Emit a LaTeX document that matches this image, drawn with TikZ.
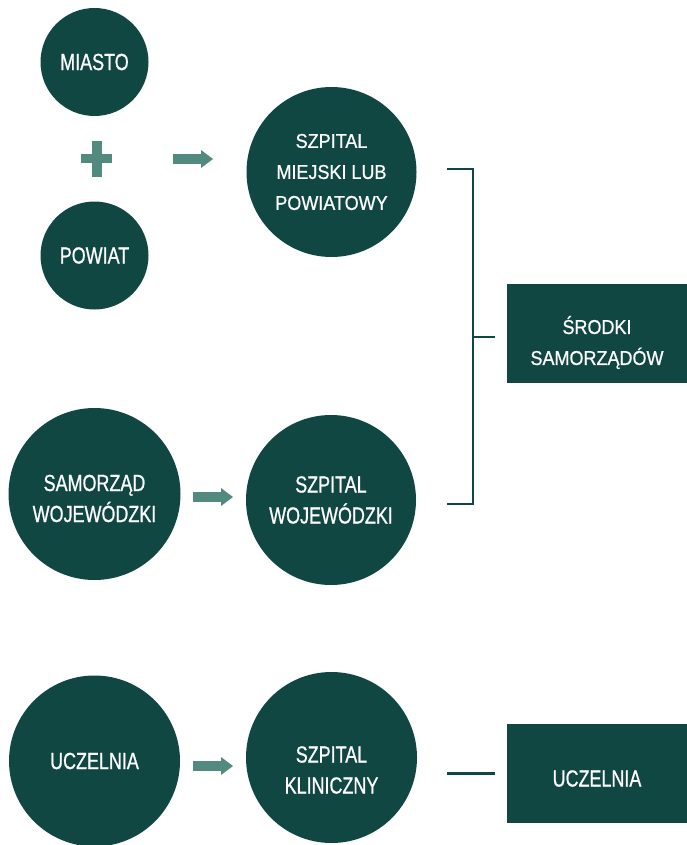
\documentclass[tikz,border=0pt]{standalone}
\usepackage{fontspec}
\newfontfamily\tallfont[FakeStretch=0.77, FakeBold=0.8]{Liberation Sans}
\newfontfamily\flatfont[FakeStretch=0.9, FakeBold=0.8]{Liberation Sans}
\usetikzlibrary{arrows.meta,calc}
\definecolor{pine}{HTML}{104743}
\definecolor{sage}{HTML}{528A80}

\begin{document}
\begin{tikzpicture}[
  x=1pt, y=-1pt,
  disc/.style={
    circle,
    fill=pine,
    text=white,
    inner sep=0pt,
    align=center,
    font=\tallfont\fontsize{23.3}{31}\selectfont
  },
  panel/.style={
    rectangle,
    fill=pine,
    text=white,
    inner sep=0pt,
    align=center,
    minimum width=180pt,
    minimum height=99pt,
    font=\tallfont\fontsize{23.3}{31}\selectfont
  },
  flat/.style={font=\flatfont\fontsize{20}{31}\selectfont},
  caption/.style={text=white, align=center, inner sep=0pt,
    font=\tallfont\fontsize{23.3}{31}\selectfont},
  link/.style={draw=pine, line width=2.2pt},
  fat/.style={draw=sage, line width=10pt, -{Triangle[length=12pt, width=18pt, line width=0pt]}}
]
\useasboundingbox (0,0) rectangle (687,845);

% left column
\node[disc, minimum size=108pt] (miasto) at (94.5,62) {MIASTO};
\node[disc, minimum size=108pt] (powiat) at (94.5,255.5) {POWIAT};
\node[disc, minimum size=172pt,
  label={[caption, yshift=-4.5pt]center:{SAMORZĄD\\WOJEWÓDZKI}}] (samwoj) at (94.5,494) {};
\node[disc, minimum size=171pt] (uczel) at (94.5,761) {UCZELNIA};

% hospitals
\node[disc, flat, minimum size=170pt] (szpmiej) at (331.5,172) {SZPITAL\\MIEJSKI LUB\\POWIATOWY};
\node[disc, minimum size=170pt] (szpwoj) at (331,500) {SZPITAL\\WOJEWÓDZKI};
\node[disc, minimum size=171pt,
  label={[caption, yshift=-12.5pt]center:{SZPITAL\\KLINICZNY}}] (szpklin) at (331.5,757.5) {};

% funding
\node[panel,
  label={[caption, flat, yshift=-9pt]center:{ŚRODKI\\SAMORZĄDÓW}}] (srodki) at (597,333.5) {};
\node[panel,
  label={[caption, yshift=-5pt]center:UCZELNIA}] (uczpanel) at (597,773.5) {};

% plus sign
\coordinate (plus) at (96.5,159);
\fill[sage] ($(plus)+(-15.5,-4.5)$) rectangle ($(plus)+(15.5,4.5)$);
\fill[sage] ($(plus)+(-5,-18)$) rectangle ($(plus)+(5,18)$);

% arrows
\coordinate (a1s) at (173,159);
\coordinate (a1e) at (213,159);
\coordinate (a2s) at (193,497);
\coordinate (a2e) at (233,497);
\coordinate (a3s) at (193,766);
\coordinate (a3e) at (233,766);
\draw[fat] (a1s) -- (a1e);
\draw[fat] (a2s) -- (a2e);
\draw[fat] (a3s) -- (a3e);

% bracket
\coordinate (btop) at (447,169);
\coordinate (bbot) at (447,504);
\coordinate (bmid) at (473,337);
\draw[link] (btop) -| (bmid) |- (bbot);
\draw[link, shorten >=12pt] (bmid) -- (bmid -| srodki.west);

\draw[link, shorten >=12pt] (szpklin.east |- uczpanel.west) ++(30,0) -- (uczpanel.west);

\end{tikzpicture}
\end{document}
